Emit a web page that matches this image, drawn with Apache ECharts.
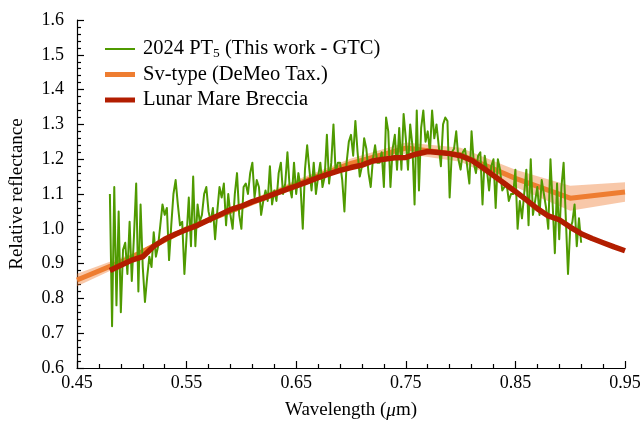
<!DOCTYPE html>
<html>
<head>
<meta charset="utf-8">
<script src="https://cdn.jsdelivr.net/npm/echarts@6/dist/echarts.min.js"></script>
<style>
  html, body { margin: 0; padding: 0; background: #fff; }
  #chart { width: 642px; height: 422px; }
</style>
</head>
<body>
<div id="chart"></div>
<script>
// Asteroid spectrum (GTC), sampled every 0.002 µm from 0.480 µm
const pt5Start = 0.480;
const pt5Step = 0.002;
const pt5Reflectance = [
  1.10, 0.72, 1.12, 0.78, 1.05, 0.76, 0.94, 0.96, 0.87, 1.02,
  0.85, 0.98, 1.13, 0.82, 1.07, 0.89, 0.79, 0.86, 0.92, 0.89,
  0.99, 0.92, 0.95, 1.01, 1.07, 1.04, 1.06, 0.91, 1.01, 1.10,
  1.14, 1.07, 1.01, 1.02, 0.87,
  0.98, 1.09, 0.95, 1.15, 0.95, 1.07, 1.02, 1.04, 1.10, 1.12,
  1.05, 1.02, 1.06, 0.97, 1.05, 1.12, 1.09, 1.13, 1.01, 1.10,
  1.04, 1.00, 1.10, 1.16, 1.04, 1.00, 1.12, 1.13, 1.10, 1.16,
  1.19, 1.09, 1.14, 1.12, 1.04, 1.08,
  1.11, 1.08, 1.18, 1.07, 1.11, 1.08, 1.16, 1.19, 1.10, 1.13,
  1.22, 1.12, 1.09, 1.19, 1.10, 1.16, 1.12, 1.00, 1.17, 1.24,
  1.17, 1.11, 1.19, 1.10, 1.15, 1.19, 1.12, 1.15, 1.27, 1.13,
  1.19, 1.30, 1.16, 1.19,
  1.19, 1.14, 1.05, 1.19, 1.25, 1.27, 1.21, 1.31, 1.22, 1.15,
  1.18, 1.26, 1.23, 1.16, 1.12, 1.20, 1.24, 1.19, 1.19, 1.22,
  1.12, 1.32, 1.28, 1.12, 1.23, 1.27, 1.17, 1.29, 1.17, 1.33,
  1.26, 1.17, 1.30, 1.24, 1.07, 1.34,
  1.11, 1.29, 1.34, 1.25, 1.28, 1.22, 1.34, 1.26, 1.30, 1.24,
  1.18, 1.30, 1.32, 1.31, 1.09, 1.22, 1.23, 1.28, 1.20, 1.17,
  1.22, 1.23, 1.18, 1.13, 1.28, 1.19, 1.16, 1.21, 1.22, 1.07,
  1.21, 1.17, 1.11, 1.18, 1.20, 1.06, 1.20,
  1.17, 1.11, 1.12, 1.13, 1.08, 1.10, 1.10, 1.17, 1.00, 1.08,
  1.03, 1.10, 1.17, 1.01, 1.20, 1.04, 1.08, 1.12, 1.04, 1.14,
  1.10, 1.06, 1.00, 1.20, 1.07, 0.93, 1.13, 0.97, 1.12, 1.19,
  1.03, 0.87, 1.00, 1.02, 1.07, 0.95, 1.03, 0.96
];

// DeMeo Sv-type class mean and standard deviation
const svWavelength = [0.45, 0.50, 0.55, 0.60, 0.65, 0.70, 0.75, 0.80, 0.85, 0.90, 0.95];
const svMean = [0.853, 0.918, 1.000, 1.063, 1.128, 1.188, 1.232, 1.213, 1.145, 1.088, 1.106];
const svStd = [0.018, 0.010, 0.000, 0.008, 0.012, 0.014, 0.016, 0.020, 0.025, 0.036, 0.028];

// Lunar mare breccia laboratory spectrum
const lunarWavelength = [
  0.48, 0.49, 0.50, 0.51, 0.52, 0.53, 0.54, 0.55, 0.56, 0.57,
  0.58, 0.59, 0.60, 0.61, 0.62, 0.63, 0.64, 0.65, 0.66, 0.67,
  0.68, 0.69, 0.70, 0.71, 0.72, 0.73, 0.74, 0.75, 0.76, 0.77,
  0.78, 0.79, 0.80, 0.81, 0.82, 0.83, 0.84, 0.85, 0.86, 0.87,
  0.88, 0.89, 0.90, 0.91, 0.92, 0.93, 0.94, 0.95
];
const lunarReflectance = [
  0.880, 0.895, 0.910, 0.920, 0.950, 0.970, 0.985, 0.998, 1.010, 1.025,
  1.040, 1.055, 1.065, 1.078, 1.088, 1.100, 1.112, 1.123, 1.135, 1.147,
  1.158, 1.168, 1.176, 1.183, 1.195, 1.200, 1.204, 1.205, 1.215, 1.222,
  1.219, 1.216, 1.210, 1.197, 1.176, 1.153, 1.130, 1.107, 1.083, 1.058,
  1.037, 1.026, 1.005, 0.986, 0.972, 0.960, 0.948, 0.937
];

const xTicks = [0.45, 0.55, 0.65, 0.75, 0.85, 0.95];
const yTicks = [0.6, 0.7, 0.8, 0.9, 1.0, 1.1, 1.2, 1.3, 1.4, 1.5, 1.6];

const seriesNames = ['2024 PT5 (This work - GTC)', 'Sv-type (DeMeo Tax.)', 'Lunar Mare Breccia'];
const colors = { pt5: '#4f9a00', sv: '#ee7d31', band: 'rgba(238,125,49,0.42)', lunar: '#b21d00' };
const serif = 'Liberation Serif, Times New Roman, serif';

const pt5Data = pt5Reflectance.map((v, i) => [+(pt5Start + i * pt5Step).toFixed(3), v]);
const svData = svWavelength.map((w, i) => [w, svMean[i]]);
const bandData = svWavelength.map((w, i) => [w, svMean[i] - svStd[i], svMean[i] + svStd[i]]);
const lunarData = lunarWavelength.map((w, i) => [w, lunarReflectance[i]]);

const chart = echarts.init(document.getElementById('chart'), null, { renderer: 'canvas' });

function axisParts() {
  return {
    axisLine: { show: true, onZero: false, lineStyle: { color: '#000', width: 1.2 } },
    axisTick: { show: true, inside: true, length: 7, lineStyle: { color: '#000', width: 1.2 } },
    minorTick: { show: true, splitNumber: 5, length: 4, lineStyle: { color: '#000', width: 1.2 } },
    splitLine: { show: false },
    minorSplitLine: { show: false }
  };
}

// ±1σ envelope of the Sv-type mean, drawn as one polygon in data space
function renderBand(params, api) {
  if (params.dataIndex !== 0) return null;
  const upper = bandData.map(d => api.coord([d[0], d[2]]));
  const lower = bandData.map(d => api.coord([d[0], d[1]])).reverse();
  return {
    type: 'polygon',
    shape: { points: upper.concat(lower) },
    style: { fill: colors.band }
  };
}

chart.setOption({
  animation: false,
  backgroundColor: '#fff',
  grid: { left: 77, right: 17, top: 20, bottom: 54, containLabel: false, outerBoundsMode: 'none' },
  legend: {
    orient: 'vertical',
    left: 105,
    top: 38,
    padding: 0,
    itemWidth: 30,
    itemHeight: 5,
    itemGap: 3.5,
    selectedMode: false,
    data: [
      { name: seriesNames[0], icon: 'path://M0,0M30,5M0,1.5H30V3.5H0Z', itemStyle: { color: colors.pt5 } },
      { name: seriesNames[1], icon: 'rect', itemStyle: { color: colors.sv } },
      { name: seriesNames[2], icon: 'rect', itemStyle: { color: colors.lunar } }
    ],
    formatter: name => name === seriesNames[0] ? '2024 PT{sub|5} (This work - GTC)' : name,
    textStyle: {
      fontFamily: serif, fontSize: 20.5, color: '#000', lineHeight: 22, padding: [0, 0, 0, 3],
      rich: { sub: { fontFamily: serif, fontSize: 13.5, color: '#000', lineHeight: 12, verticalAlign: 'bottom' } }
    }
  },
  xAxis: Object.assign(axisParts(), {
    type: 'value',
    min: xTicks[0],
    max: xTicks[xTicks.length - 1],
    interval: 0.1,
    name: 'Wavelength ({i|μ}m)',
    nameLocation: 'middle',
    nameGap: 33,
    nameTextStyle: {
      fontFamily: serif, fontSize: 19, color: '#000',
      rich: { i: { fontFamily: serif, fontSize: 19, fontStyle: 'italic', color: '#000' } }
    },
    axisLabel: { fontFamily: serif, fontSize: 18, color: '#000', margin: 6, formatter: v => v.toFixed(2) }
  }),
  yAxis: Object.assign(axisParts(), {
    type: 'value',
    min: yTicks[0],
    max: yTicks[yTicks.length - 1],
    interval: 0.1,
    name: 'Relative reflectance',
    nameLocation: 'middle',
    nameGap: 50,
    nameRotate: 90,
    nameTextStyle: { fontFamily: serif, fontSize: 19, color: '#000' },
    axisLabel: { fontFamily: serif, fontSize: 18, color: '#000', margin: 13, formatter: v => v.toFixed(1) }
  }),
  series: [
    {
      name: 'sv-band', type: 'custom', data: bandData, renderItem: renderBand,
      encode: { x: 0, y: [1, 2] }, silent: true, clip: true, z: 1
    },
    {
      name: seriesNames[1], type: 'line', data: svData, symbol: 'none', z: 2,
      itemStyle: { color: colors.sv },
      lineStyle: { color: colors.sv, width: 5, join: 'round' }
    },
    {
      name: seriesNames[0], type: 'line', data: pt5Data, symbol: 'none', z: 3,
      itemStyle: { color: colors.pt5 },
      lineStyle: { color: colors.pt5, width: 2, join: 'round' }
    },
    {
      name: seriesNames[2], type: 'line', data: lunarData, symbol: 'none', z: 4,
      itemStyle: { color: colors.lunar },
      lineStyle: { color: colors.lunar, width: 5.5, join: 'round' }
    }
  ]
});
</script>
</body>
</html>
